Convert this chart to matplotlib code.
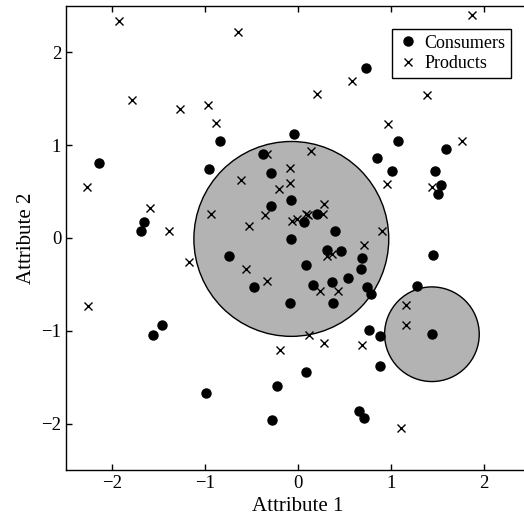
import matplotlib
matplotlib.use('Agg')
import matplotlib.pyplot as plt
from matplotlib.patches import Circle

plt.rcParams['font.family'] = ['Liberation Serif', 'DejaVu Serif']

# consumer positions (attribute 1, attribute 2)
consumers_x = [-2.14, -0.837, -0.958, -1.655, -1.688, -0.746, -0.38, 0.729, -0.04, 1.074,
               0.847, 1.009, 1.594, 1.475, 1.544, 1.511, 1.457, -0.294, -0.072, -0.294,
               0.205, 0.068, 0.395, -0.072, 0.316, 0.466, 0.689, 0.675, 0.086, 0.535,
               0.363, 0.158, 0.74, 0.783, 0.38, -0.086, 0.761, 0.883, 1.28, 1.443,
               0.883, 0.083, -0.229, -0.28, 0.657, 0.714, -0.474, -1.461, -1.565, -0.991]
consumers_y = [0.81, 1.048, 0.739, 0.17, 0.076, -0.198, 0.904, 1.836, 1.12, 1.048,
               0.864, 0.717, 0.955, 0.717, 0.572, 0.479, -0.187, 0.699, 0.407, 0.35,
               0.259, 0.17, 0.076, -0.01, -0.125, -0.14, -0.212, -0.331, -0.295, -0.432,
               -0.475, -0.511, -0.529, -0.605, -0.698, -0.698, -0.99, -1.058, -0.515, -1.037,
               -1.378, -1.447, -1.594, -1.961, -1.868, -1.94, -0.529, -0.935, -1.043, -1.666]

# product positions
products_x = [-1.928, -0.643, -1.788, -1.271, -0.973, -0.883, -2.276, -1.594, -1.386, -0.61,
              -0.94, -0.524, -1.177, 1.874, 0.585, 0.208, 1.386, 0.969, 1.766, 0.137,
              -0.33, 0.955, 1.44, -0.085, -0.085, -0.206, 0.28, -0.357, 0.272, 0.083,
              0.11, -0.014, -0.068, 0.905, 0.711, 0.316, 0.37, 0.242, 0.436, 0.12,
              0.275, 0.693, -0.334, 1.163, 1.163, -0.191, 1.113, -0.56, -2.258]
products_y = [2.343, 2.218, 1.487, 1.393, 1.43, 1.242, 0.551, 0.328, 0.076, 0.623,
              0.263, 0.13, -0.262, 2.405, 1.689, 1.555, 1.541, 1.228, 1.044, 0.936,
              0.91, 0.587, 0.551, 0.752, 0.59, 0.528, 0.371, 0.245, 0.263, 0.263,
              0.245, 0.205, 0.184, 0.076, -0.071, -0.19, -0.168, -0.57, -0.57, -1.042,
              -1.13, -1.157, -0.46, -0.72, -0.935, -1.209, -2.052, -0.33, -0.734]

# shaded regions: (center x, center y, radius)
regions = [(-0.072, -0.01, 1.05), (1.443, -1.037, 0.51)]

fig = plt.figure(figsize=(5.24, 5.24), dpi=100)
ax = fig.add_axes([66 / 524, 54 / 524, 464 / 524, 464 / 524])

for cx, cy, r in regions:
    ax.add_patch(Circle((cx, cy), r, facecolor='#b3b3b3', edgecolor='black',
                        linewidth=1.0, zorder=1))

ax.plot(consumers_x, consumers_y, 'o', color='black', markersize=6.5,
        linestyle='none', label='Consumers', zorder=3)
ax.plot(products_x, products_y, 'x', color='black', markersize=5.5,
        markeredgewidth=1.0, linestyle='none', label='Products', zorder=3)

ax.set_xlim(-2.5, 2.5)
ax.set_ylim(-2.5, 2.5)
ax.set_xticks([-2, -1, 0, 1, 2])
ax.set_yticks([-2, -1, 0, 1, 2])
ax.tick_params(direction='in', length=4, width=1, top=True, right=True, labelsize=13.5)
for s in ax.spines.values():
    s.set_linewidth(1.0)

ax.set_xlabel('Attribute 1', fontsize=15, labelpad=4)
ax.set_ylabel('Attribute 2', fontsize=15, labelpad=4)

leg = ax.legend(loc='upper right', bbox_to_anchor=(0.959, 0.95), borderaxespad=0,
                fontsize=13, fancybox=False, edgecolor='black', framealpha=1,
                handletextpad=0.3, handlelength=1.2, borderpad=0.3, labelspacing=0.2)
leg.get_frame().set_linewidth(1.0)

plt.savefig('out.png', dpi=100)
